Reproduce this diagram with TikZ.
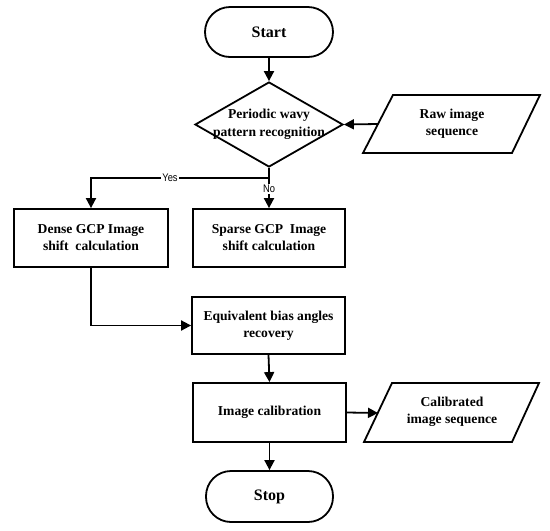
\documentclass[tikz,border=0pt]{standalone}
\usepackage{fontspec}
\setmainfont{Liberation Serif}
\newfontfamily\lblfont[FakeStretch=0.85]{Liberation Sans}
\usetikzlibrary{arrows.meta,shapes.geometric}
\tikzset{
  lw/.style={line width=1.8pt},
  txt/.style={font=\fontsize{13.6}{17}\selectfont\bfseries, align=center},
  procbox/.style={lw, draw, txt, minimum width=153pt, minimum height=58pt, inner sep=0pt},
  term/.style={lw, draw, font=\fontsize{16}{19}\selectfont\bfseries, rounded corners=25pt, minimum width=128pt, minimum height=50pt, inner sep=0pt},
  arr/.style={lw, -{Triangle[length=10pt,width=10pt]}},
  lbl/.style={font=\lblfont\fontsize{11}{12}\selectfont, fill=white, inner sep=1pt},
}
\begin{document}
\begin{tikzpicture}[x=1pt,y=-1pt]
\useasboundingbox (0,0) rectangle (550,531);
% nodes
\node[term] (start) at (269,32) {Start};
\node[diamond, lw, draw, minimum width=148pt, minimum height=85pt, inner sep=0pt] (dia) at (269,124.5) {};
\node[txt, font=\fontsize{13.6}{18}\selectfont\bfseries] (diatext) at (269,124) {Periodic wavy\\pattern recognition};
\draw[lw, line join=miter] (393,95) -- (540,95) -- (512,153) -- (363,153) -- cycle;
\node[txt] (raw) at (452,124) {Raw image\\sequence};
\coordinate (rawL) at (378,124);
\node[procbox, minimum width=154pt] (dense) at (91,238) {Dense GCP Image\\shift\ \ calculation};
\node[procbox, minimum width=152pt] (sparse) at (269,238) {Sparse GCP\ \ Image\\shift calculation};
\node[procbox, minimum height=57pt] (equiv) at (268.5,325.5) {Equivalent bias angles\\recovery};
\node[procbox, minimum height=59pt] (calib) at (269.5,412.5) {Image calibration};
\draw[lw] (392,383) -- (539,383) -- (512,442) -- (364,442) -- cycle;
\node[txt] (calibrated) at (452,412) {Calibrated\\image sequence};
\coordinate (calL) at (378,413);
\node[term, minimum width=127pt, minimum height=51pt] (stop) at (269.5,496.5) {Stop};
% connectors
\coordinate (junc) at (269,178);
\draw[arr] (start.south) -- (dia.north);
\draw[arr] (rawL) -- (dia.east);
\draw[arr] (dia.south) -- (sparse.north);
\draw[arr] (junc) -| (dense.north);
\node[lbl] (yes) at (170,178) {Yes};
\node[lbl] (no) at (269,189) {No};
\coordinate (dturn) at (91,325.5);
\draw[arr] (dense.south) -- (dturn) -- (equiv.west);
\draw[arr] (equiv.south) -- (calib.north);
\draw[arr] (calib.east) -- (calL);
\draw[arr] (calib.south) -- (stop.north);
\end{tikzpicture}
\end{document}
